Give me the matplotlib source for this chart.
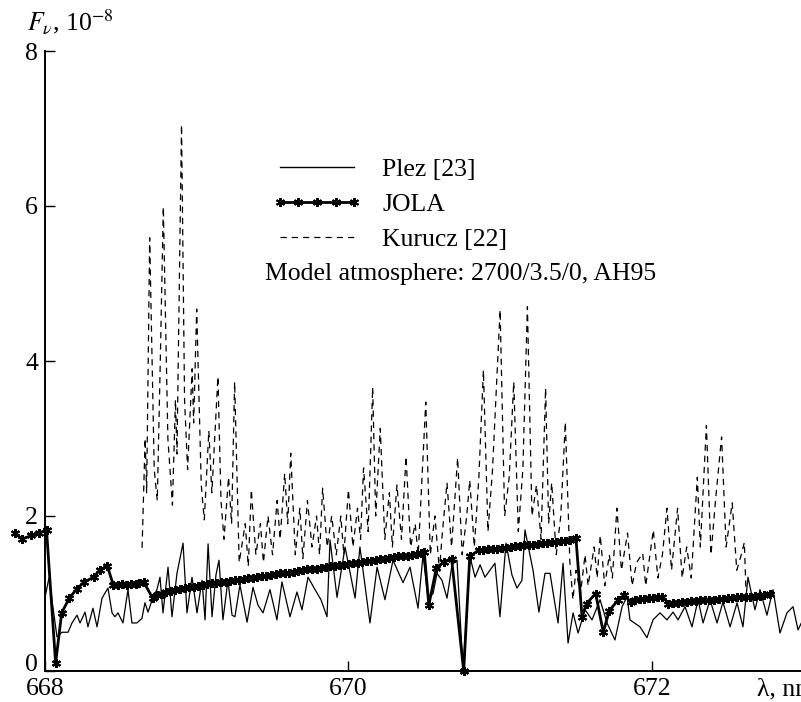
import matplotlib
matplotlib.use("Agg")
import matplotlib.pyplot as plt
from matplotlib.lines import Line2D

plt.rcParams['font.family'] = ['Liberation Serif', 'DejaVu Serif']
plt.rcParams['mathtext.fontset'] = 'stix'

# ---------------- data (wavelength in nm, flux in 1e-8) ----------------
plez_wl = [668.000, 668.026, 668.079, 668.112, 668.152, 668.178, 668.211, 668.231, 668.264, 668.283,
           668.316, 668.343, 668.376, 668.415, 668.442, 668.461, 668.481, 668.514, 668.547, 668.573,
           668.606, 668.639, 668.659, 668.679, 668.712, 668.738, 668.758, 668.778, 668.811, 668.837,
           668.870, 668.910, 668.936, 668.969, 669.002, 669.035, 669.055, 669.075, 669.101, 669.127,
           669.147, 669.173, 669.206, 669.233, 669.252, 669.285, 669.332, 669.371, 669.404, 669.437,
           669.483, 669.529, 669.562, 669.615, 669.661, 669.694, 669.734, 669.780, 669.819, 669.859,
           669.879, 669.925, 669.978, 670.044, 670.076, 670.142, 670.189, 670.241, 670.294, 670.360,
           670.406, 670.459, 670.492, 670.525, 670.558, 670.584, 670.617, 670.650, 670.683, 670.716,
           670.756, 670.802, 670.835, 670.868, 670.900, 670.933, 670.966, 670.999, 671.039, 671.078,
           671.111, 671.144, 671.164, 671.217, 671.256, 671.296, 671.329, 671.382, 671.415, 671.448,
           671.481, 671.514, 671.560, 671.606, 671.659, 671.705, 671.757, 671.804, 671.837, 671.856,
           671.922, 671.968, 672.008, 672.054, 672.100, 672.140, 672.173, 672.219, 672.265, 672.305,
           672.338, 672.384, 672.430, 672.469, 672.516, 672.562, 672.601, 672.634, 672.680, 672.713,
           672.759, 672.799, 672.845, 672.891, 672.931, 672.964, 673.010]
plez_flux = [0.95, 1.20, 0.44, 0.50, 0.50, 0.62, 0.72, 0.62, 0.76, 0.57,
             0.81, 0.57, 0.94, 1.07, 0.75, 0.70, 0.75, 0.62, 1.05, 0.62,
             0.62, 0.68, 0.88, 0.76, 0.95, 1.05, 1.21, 0.75, 1.34, 0.70,
             1.26, 1.65, 0.75, 1.21, 0.75, 1.17, 0.66, 1.64, 0.70, 1.24,
             1.43, 0.66, 1.17, 0.72, 0.70, 1.11, 0.63, 1.08, 0.85, 0.75,
             1.05, 0.66, 1.15, 0.70, 1.02, 0.79, 1.21, 1.05, 0.92, 0.70,
             1.69, 0.95, 1.60, 0.94, 1.60, 0.62, 1.34, 0.92, 1.43, 1.14,
             1.34, 0.81, 1.50, 0.94, 1.00, 1.26, 1.17, 0.94, 1.37, 1.43,
             0.00, 1.47, 1.21, 1.37, 1.21, 1.30, 1.39, 0.70, 1.65, 1.24,
             1.07, 1.17, 1.82, 1.30, 0.76, 1.26, 1.26, 0.62, 1.39, 0.36,
             0.75, 0.49, 0.79, 0.66, 0.92, 0.62, 0.40, 0.83, 0.96, 0.66,
             0.57, 0.43, 0.66, 0.75, 0.66, 0.76, 0.66, 0.83, 0.57, 0.92,
             0.62, 0.92, 0.62, 0.89, 0.57, 0.88, 0.57, 1.21, 0.79, 1.05,
             0.72, 1.05, 0.49, 0.75, 0.83, 0.53, 0.72]

jola_wl = [667.80, 667.85, 667.91, 667.96, 668.01, 668.07, 668.11, 668.16, 668.21, 668.26,
           668.32, 668.36, 668.41, 668.45, 668.48, 668.51, 668.54, 668.57, 668.60, 668.62,
           668.65, 668.71, 668.74, 668.77, 668.80, 668.83, 668.86, 668.89, 668.92, 668.95,
           668.98, 669.01, 669.04, 669.07, 669.10, 669.13, 669.16, 669.19, 669.22, 669.25,
           669.28, 669.31, 669.34, 669.37, 669.40, 669.43, 669.46, 669.49, 669.52, 669.55,
           669.58, 669.61, 669.64, 669.67, 669.70, 669.73, 669.76, 669.79, 669.82, 669.85,
           669.88, 669.91, 669.94, 669.97, 670.00, 670.03, 670.06, 670.09, 670.12, 670.15,
           670.18, 670.21, 670.24, 670.27, 670.30, 670.33, 670.36, 670.39, 670.42, 670.45,
           670.48, 670.50, 670.53, 670.58, 670.63, 670.68, 670.76, 670.80, 670.86, 670.89,
           670.92, 670.95, 670.98, 671.01, 671.04, 671.07, 671.10, 671.13, 671.16, 671.19,
           671.22, 671.25, 671.28, 671.31, 671.34, 671.37, 671.40, 671.43, 671.46, 671.50,
           671.54, 671.57, 671.63, 671.68, 671.72, 671.78, 671.82, 671.86, 671.89, 671.92,
           671.95, 671.98, 672.01, 672.04, 672.07, 672.11, 672.14, 672.17, 672.20, 672.23,
           672.26, 672.29, 672.32, 672.35, 672.38, 672.41, 672.44, 672.47, 672.50, 672.53,
           672.56, 672.59, 672.62, 672.65, 672.68, 672.71, 672.74, 672.78]
jola_flux = [1.78, 1.70, 1.75, 1.78, 1.82, 0.10, 0.75, 0.94, 1.06, 1.15,
             1.21, 1.30, 1.36, 1.11, 1.11, 1.12, 1.11, 1.12, 1.12, 1.13,
             1.15, 0.94, 0.98, 1.00, 1.02, 1.03, 1.05, 1.06, 1.07, 1.08,
             1.09, 1.10, 1.11, 1.12, 1.13, 1.14, 1.15, 1.15, 1.16, 1.17,
             1.18, 1.19, 1.20, 1.20, 1.21, 1.22, 1.23, 1.24, 1.25, 1.26,
             1.26, 1.27, 1.28, 1.29, 1.30, 1.31, 1.32, 1.32, 1.33, 1.34,
             1.35, 1.36, 1.37, 1.37, 1.38, 1.39, 1.40, 1.41, 1.42, 1.42,
             1.43, 1.44, 1.45, 1.46, 1.47, 1.48, 1.48, 1.49, 1.50, 1.51,
             1.52, 1.54, 0.85, 1.33, 1.41, 1.45, 0.00, 1.48, 1.56, 1.56,
             1.57, 1.57, 1.58, 1.59, 1.59, 1.60, 1.61, 1.61, 1.62, 1.63,
             1.63, 1.64, 1.65, 1.65, 1.66, 1.67, 1.68, 1.68, 1.69, 1.71,
             0.70, 0.87, 1.00, 0.50, 0.78, 0.92, 0.98, 0.89, 0.92, 0.93,
             0.93, 0.94, 0.94, 0.95, 0.96, 0.87, 0.88, 0.88, 0.89, 0.89,
             0.90, 0.90, 0.91, 0.91, 0.92, 0.92, 0.93, 0.93, 0.94, 0.94,
             0.95, 0.95, 0.96, 0.96, 0.97, 0.97, 0.98, 1.00]

kurucz_wl = [668.64, 668.66, 668.67, 668.69, 668.72, 668.74, 668.76, 668.78, 668.81, 668.84,
             668.86, 668.87, 668.90, 668.92, 668.94, 668.97, 668.98, 669.00, 669.03, 669.05,
             669.08, 669.10, 669.14, 669.16, 669.18, 669.21, 669.23, 669.25, 669.28, 669.32,
             669.34, 669.36, 669.39, 669.42, 669.44, 669.47, 669.50, 669.53, 669.55, 669.58,
             669.60, 669.62, 669.65, 669.68, 669.70, 669.73, 669.76, 669.79, 669.81, 669.83,
             669.86, 669.89, 669.92, 669.95, 669.97, 670.00, 670.03, 670.06, 670.08, 670.10,
             670.13, 670.16, 670.18, 670.21, 670.24, 670.27, 670.29, 670.32, 670.35, 670.38,
             670.41, 670.44, 670.46, 670.51, 670.54, 670.57, 670.60, 670.62, 670.65, 670.68,
             670.72, 670.75, 670.78, 670.80, 670.83, 670.86, 670.89, 670.92, 670.95, 671.00,
             671.03, 671.06, 671.09, 671.12, 671.15, 671.18, 671.21, 671.24, 671.27, 671.30,
             671.32, 671.34, 671.37, 671.40, 671.43, 671.46, 671.48, 671.50, 671.53, 671.56,
             671.58, 671.62, 671.64, 671.66, 671.69, 671.72, 671.74, 671.77, 671.80, 671.84,
             671.87, 671.90, 671.94, 671.96, 672.01, 672.04, 672.07, 672.10, 672.13, 672.17,
             672.20, 672.23, 672.26, 672.30, 672.32, 672.36, 672.39, 672.42, 672.46, 672.49,
             672.53, 672.56, 672.59, 672.61, 672.62]
kurucz_flux = [1.59, 3.00, 2.30, 5.59, 2.60, 2.20, 4.00, 5.99, 3.00, 2.14,
               3.50, 2.80, 7.05, 3.50, 2.60, 3.90, 3.20, 4.67, 2.40, 1.95,
               3.10, 2.30, 3.80, 2.20, 1.70, 2.50, 1.90, 3.73, 1.40, 1.90,
               1.35, 2.34, 1.50, 1.90, 1.40, 2.00, 1.50, 2.20, 1.70, 2.55,
               1.90, 2.81, 1.50, 2.10, 1.45, 2.20, 1.60, 2.00, 1.50, 2.36,
               1.60, 2.00, 1.50, 2.00, 1.50, 2.34, 1.60, 2.10, 1.70, 2.62,
               1.80, 3.66, 2.00, 3.13, 1.70, 2.30, 1.60, 2.40, 1.70, 2.77,
               1.60, 1.90, 1.50, 3.47, 1.50, 2.00, 1.30, 1.80, 2.43, 1.60,
               2.75, 1.50, 2.00, 2.46, 1.60, 2.50, 3.88, 1.80, 2.60, 4.66,
               2.00, 2.50, 3.73, 1.80, 2.60, 4.70, 2.00, 2.40, 1.70, 3.65,
               1.90, 2.43, 1.50, 2.00, 3.21, 1.40, 0.92, 1.30, 1.00, 1.50,
               1.10, 1.60, 1.20, 1.75, 1.10, 1.50, 1.20, 2.10, 1.30, 1.78,
               1.10, 1.40, 1.52, 1.10, 1.82, 1.20, 1.50, 2.10, 1.30, 2.10,
               1.20, 1.60, 1.20, 2.50, 1.60, 3.17, 1.50, 2.20, 3.02, 1.60,
               2.17, 1.30, 1.50, 1.66, 1.08]

labels = ["Plez [23]", "JOLA", "Kurucz [22]"]
note = "Model atmosphere: 2700/3.5/0, AH95"
xticks = [668, 670, 672]
yticks = [0, 2, 4, 6, 8]

# ---------------- figure ----------------
W, H = 801, 702
FS = 18.5
fig = plt.figure(figsize=(W / 100, H / 100), dpi=100)
ax = fig.add_axes([45 / W, 31 / H, 756 / W, 620 / H])
ax.set_xlim(668, 668 + 756 / 151.7)
ax.set_ylim(0, 8)

star = (6, 2, 0)
ax.plot(kurucz_wl, kurucz_flux, color='black', lw=0.9, dashes=(5, 4), label=labels[2], zorder=2)
ax.plot(plez_wl, plez_flux, color='black', lw=0.9, label=labels[0], zorder=3)
ax.plot(jola_wl, jola_flux, color='black', lw=2.0, marker=star, ms=6.5, mew=1.5,
        label=labels[1], clip_on=False, zorder=4)

for s in ['top', 'right']:
    ax.spines[s].set_visible(False)
for s in ['left', 'bottom']:
    ax.spines[s].set_linewidth(1.4)

ax.set_xticks(xticks)
ax.set_yticks(yticks)
ax.tick_params(direction='in', length=7, width=1.0, labelsize=FS)
ax.tick_params(axis='x', pad=5)
ax.tick_params(axis='y', pad=5)
ax.yaxis.get_major_ticks()[0].label1.set_verticalalignment('baseline')

fig.text(27 / W, 1 - 22 / H, r"$F_{\nu}$, 10$^{-8}$", fontsize=FS, va='center', ha='left')
fig.text(757 / W, 1 - 689 / H, "λ, nm", fontsize=FS, va='center', ha='left')

h_plez = Line2D([], [], color='black', lw=1.0)
h_jola = Line2D([], [], color='black', lw=2.0, marker=star, ms=6.5, mew=1.4)
h_kur = Line2D([], [], color='black', lw=0.9, dashes=(5, 4))
leg = ax.legend([h_plez, h_jola, h_kur], labels, loc='upper left',
                bbox_to_anchor=(272 / W, 1 - 158 / H), bbox_transform=fig.transFigure,
                frameon=False, fontsize=FS, handlelength=3.5, handletextpad=0.8,
                labelspacing=0.46, borderpad=0, borderaxespad=0, numpoints=5)
fig.text(265 / W, 1 - 274 / H, note, fontsize=FS, va='center', ha='left')

fig.savefig("out.png", dpi=100)
